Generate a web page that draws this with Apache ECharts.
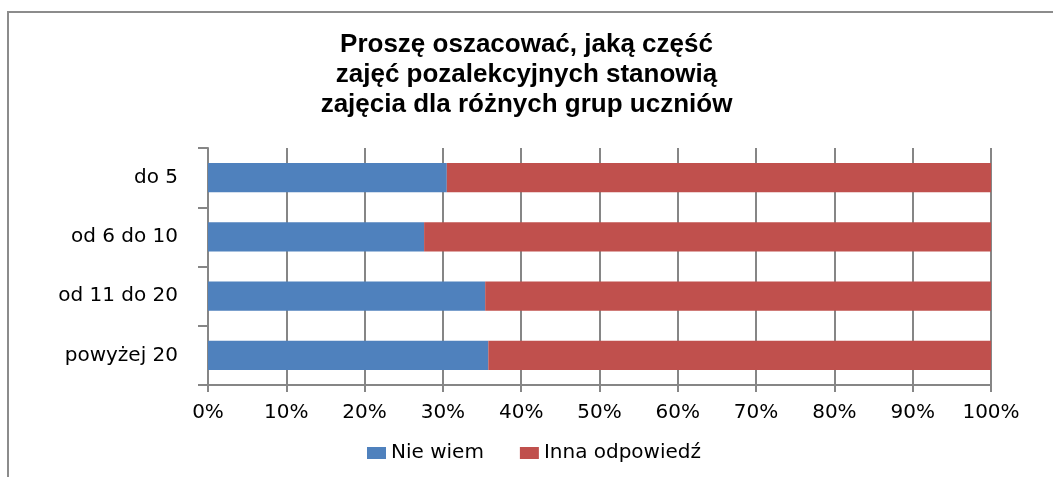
<!DOCTYPE html>
<html>
<head>
<meta charset="utf-8">
<script src="https://cdn.jsdelivr.net/npm/echarts@6/dist/echarts.min.js"></script>
<style>
  html, body { margin: 0; padding: 0; background: #fff; }
  #chart { width: 1053px; height: 477px; }
</style>
</head>
<body>
<div id="chart"></div>
<script>
// dane (w procentach)
var categories = ['do 5', 'od 6 do 10', 'od 11 do 20', 'powyżej 20'];
var nieWiem = [30.5, 27.6, 35.4, 35.8];
var innaOdpowiedz = [69.5, 72.4, 64.6, 64.2];
var seriesNames = ['Nie wiem', 'Inna odpowiedź'];
var titleText = 'Proszę oszacować, jaką część\nzajęć pozalekcyjnych stanowią\nzajęcia dla różnych grup uczniów';

var chart = echarts.init(document.getElementById('chart'));
var axisFont = '"DejaVu Sans", sans-serif';
var gridColor = '#868686';

chart.setOption({
  backgroundColor: '#ffffff',
  animation: false,
  graphic: [{
    type: 'rect',
    shape: { x: 8, y: 12, width: 1200, height: 600 },
    style: { fill: 'none', stroke: '#8c8c8c', lineWidth: 2 },
    silent: true
  }],
  title: {
    text: titleText,
    left: 'center',
    top: 25,
    textStyle: {
      fontFamily: '"Liberation Sans", Arial, sans-serif',
      fontWeight: 'bold',
      fontSize: 26,
      lineHeight: 30,
      color: '#000'
    }
  },
  legend: {
    data: seriesNames,
    bottom: 9,
    left: 362,
    icon: 'rect',
    itemWidth: 19,
    itemHeight: 12,
    itemGap: 36,
    textStyle: { fontFamily: axisFont, fontSize: 20, color: '#000' }
  },
  grid: {
    top: 148,
    left: 208,
    right: 62,
    bottom: 92,
    containLabel: false
  },
  xAxis: {
    type: 'value',
    min: 0,
    max: 100,
    interval: 10,
    axisLine: { show: true, lineStyle: { color: gridColor, width: 2 } },
    axisTick: { show: true, length: 7, lineStyle: { color: gridColor, width: 2 } },
    axisLabel: {
      formatter: '{value}%',
      margin: 18,
      fontFamily: axisFont,
      fontSize: 20,
      color: '#000'
    },
    splitLine: { show: true, lineStyle: { color: gridColor, width: 2 } }
  },
  yAxis: {
    type: 'category',
    data: categories,
    inverse: true,
    axisLine: { show: true, lineStyle: { color: gridColor, width: 2 } },
    axisTick: { show: true, length: 10, lineStyle: { color: gridColor, width: 2 } },
    axisLabel: {
      margin: 30,
      fontFamily: axisFont,
      fontSize: 20,
      color: '#000'
    }
  },
  series: [{
    name: seriesNames[0],
    type: 'bar',
    stack: 'total',
    barWidth: '49%',
    data: nieWiem,
    itemStyle: { color: '#4F81BD' }
  }, {
    name: seriesNames[1],
    type: 'bar',
    stack: 'total',
    barWidth: '49%',
    data: innaOdpowiedz,
    itemStyle: { color: '#C0504D' }
  }]
});
</script>
</body>
</html>
